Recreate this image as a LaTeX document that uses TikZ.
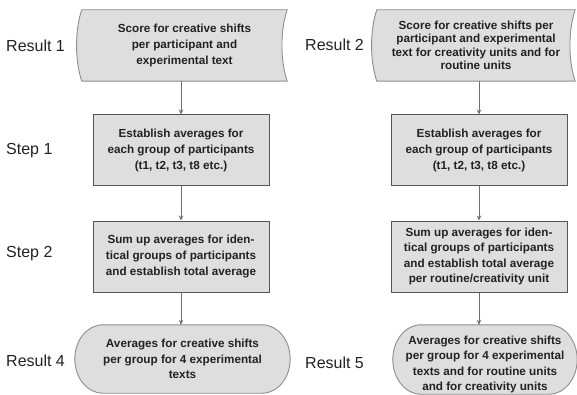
\documentclass[tikz,border=0pt]{standalone}
\usepackage{fontspec}
\setmainfont{Liberation Sans}
\usetikzlibrary{calc,arrows.meta,backgrounds}
\definecolor{boxfill}{HTML}{DEDEDE}
\definecolor{rectline}{HTML}{555555}
\definecolor{curveline}{HTML}{8E8E8E}
\definecolor{arrowcol}{HTML}{6E6E6E}
\definecolor{txt}{HTML}{222222}
\tikzset{
  boxtext/.style={align=center, text=txt, inner sep=0pt,
    font=\fontsize{11.7}{15.6}\selectfont\bfseries},
  stepbox/.style={boxtext, draw=rectline, fill=boxfill, line width=1pt,
    minimum width=176pt, minimum height=71pt},
  shapebox/.style={boxtext, draw=none, fill=none},
  curveout/.style={draw=curveline, fill=boxfill, line width=0.9pt},
  rowlabel/.style={anchor=west, text=txt, inner sep=0pt,
    font=\fontsize{16}{18}\selectfont},
  flow/.style={draw=arrowcol, line width=0.8pt,
    -{Stealth[length=5pt,width=4.5pt]}}
}
\newcommand\storedpath[1]{%
  \path[curveout] (#1.north west) -- (#1.north east)
    .. controls ($(#1.north east)+(-7,20)$) and ($(#1.south east)+(-7,-20)$) .. (#1.south east)
    -- (#1.south west)
    .. controls ($(#1.south west)+(-7,-20)$) and ($(#1.north west)+(-7,20)$) .. cycle;}
\newcommand\termpath[1]{%
  \path[curveout] ($(#1.north west)+(28,0)$) -- ($(#1.north east)+(-28,0)$)
    .. controls ($(#1.north east)+(-12.5,0)$) and ($(#1.east)+(0,-19)$) .. (#1.east)
    .. controls ($(#1.east)+(0,19)$) and ($(#1.south east)+(-12.5,0)$) .. ($(#1.south east)+(-28,0)$)
    -- ($(#1.south west)+(28,0)$)
    .. controls ($(#1.south west)+(12.5,0)$) and ($(#1.west)+(0,19)$) .. (#1.west)
    .. controls ($(#1.west)+(0,-19)$) and ($(#1.north west)+(12.5,0)$) .. cycle;}
\begin{document}
\begin{tikzpicture}[x=1pt,y=-1pt]
\useasboundingbox (0,0) rectangle (577,395);

% left column
\node[shapebox, minimum width=205pt, minimum height=71pt] (r1) at (184.5,45.5)
  {Score for creative shifts\\per participant and\\experimental text};
\node[stepbox] (s1) at (181,150.5)
  {Establish averages for\\each group of participants\\(t1, t2, t3, t8 etc.)};
\node[stepbox] (s2) at (181,256.5)
  {Sum up averages for iden-\\tical groups of participants\\and establish total average};
\node[shapebox, minimum width=215pt, minimum height=68pt] (r4) at (182.5,359)
  {Averages for creative shifts\\per group for 4 experimental\\texts};

% right column
\node[shapebox, minimum width=198pt, minimum height=71pt,
  font=\fontsize{11.7}{13.5}\selectfont\bfseries] (r2) at (476,45.5)
  {Score for creative shifts per\\participant and experimental\\text for creativity units and for\\routine units};
\node[stepbox] (s1b) at (479,150.5)
  {Establish averages for\\each group of participants\\(t1, t2, t3, t8 etc.)};
\node[stepbox] (s2b) at (479,256.5)
  {Sum up averages for iden-\\tical groups of participants\\and establish total average\\per routine/creativity unit};
\node[shapebox, minimum width=184pt, minimum height=69pt] (r5) at (485,359.5) {};
\node[shapebox] (r5t) at (485,364.5)
  {Averages for creative shifts\\per group for 4 experimental\\texts and for routine units\\and for creativity units};

\begin{scope}[on background layer]
  \storedpath{r1}
  \storedpath{r2}
  \termpath{r4}
  \termpath{r5}
\end{scope}

% labels
\node[rowlabel] (l1) at (6,46) {Result 1};
\node[rowlabel] (l2) at (6,151) {Step 1};
\node[rowlabel] (l3) at (6,254) {Step 2};
\node[rowlabel] (l4) at (6,361) {Result 4};
\node[rowlabel] (l5) at (305,45) {Result 2};
\node[rowlabel] (l6) at (305,363) {Result 5};

% connectors
\draw[flow] (s1.north |- r1.south) -- (s1.north);
\draw[flow] (s1) -- (s2);
\draw[flow] (s2.south) -- (s2.south |- r4.north);
\draw[flow] (s1b.north |- r2.south) -- (s1b.north);
\draw[flow] (s1b) -- (s2b);
\draw[flow] (s2b.south) -- (s2b.south |- r5.north);
\end{tikzpicture}
\end{document}
